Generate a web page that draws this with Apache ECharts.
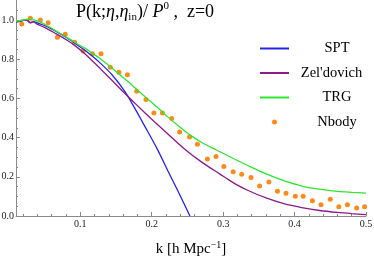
<!DOCTYPE html>
<html><head><meta charset="utf-8">
<script src="https://cdn.jsdelivr.net/npm/echarts@6/dist/echarts.min.js"></script>
<style>html,body{margin:0;padding:0;background:#fff}#c{width:374px;height:258px}</style>
</head><body><div id="c"></div>
<script>
// ---- data ----
const sptK = [0.01,0.015,0.02,0.025,0.03,0.034,0.04,0.05,0.065,0.08,0.095,0.11,0.128,0.145,0.163,0.175,0.19,0.208,0.222,0.236,0.2535];
const sptV = [0.99,0.993,0.998,1.0,0.987,0.992,0.985,0.972,0.944,0.912,0.875,0.835,0.78,0.718,0.632,0.558,0.46,0.34,0.235,0.133,0.0];
const zelK = [0.01,0.015,0.02,0.025,0.03,0.034,0.04,0.05,0.065,0.081,0.093,0.104,0.116,0.128,0.145,0.16,0.18,0.2,0.22,0.245,0.27,0.295,0.315,0.335,0.36,0.385,0.41,0.435,0.46,0.48,0.5];
const zelV = [0.99,0.993,0.998,1.0,0.985,0.99,0.978,0.962,0.932,0.898,0.868,0.835,0.795,0.752,0.69,0.634,0.563,0.494,0.427,0.345,0.275,0.215,0.168,0.13,0.092,0.063,0.043,0.028,0.018,0.012,0.007];
const trgK = [0.01,0.02,0.028,0.036,0.045,0.055,0.067,0.08,0.095,0.107,0.117,0.129,0.142,0.155,0.168,0.18,0.195,0.21,0.222,0.24,0.255,0.27,0.29,0.315,0.34,0.362,0.385,0.41,0.435,0.46,0.48,0.5];
const trgV = [0.993,1.0,1.004,0.999,0.988,0.968,0.942,0.914,0.88,0.855,0.83,0.80,0.762,0.722,0.682,0.643,0.595,0.547,0.507,0.452,0.41,0.375,0.338,0.292,0.248,0.212,0.18,0.153,0.137,0.126,0.121,0.117];
const nbK = [0.018,0.030,0.044,0.055,0.068,0.079,0.092,0.104,0.117,0.129,0.142,0.154,0.166,0.179,0.192,0.203,0.215,0.228,0.239,0.253,0.264,0.278,0.290,0.301,0.314,0.326,0.339,0.351,0.364,0.376,0.388,0.401,0.412,0.425,0.437,0.450,0.462,0.474,0.487,0.498];
const nbV = [0.980,1.009,1.000,0.986,0.912,0.927,0.886,0.842,0.828,0.828,0.759,0.733,0.721,0.636,0.594,0.526,0.526,0.497,0.429,0.403,0.366,0.291,0.303,0.253,0.226,0.213,0.196,0.153,0.173,0.126,0.116,0.1005,0.1005,0.078,0.058,0.085,0.047,0.058,0.041,0.047];
const xTickLabels = [0.1,0.2,0.3,0.4,0.5];
const xMinorTicks = [0.02,0.04,0.06,0.08,0.12,0.14,0.16,0.18,0.22,0.24,0.26,0.28,0.32,0.34,0.36,0.38,0.42,0.44,0.46,0.48];
const yTickLabels = [0,0.2,0.4,0.6,0.8,1.0];
const yMinorTicks = [0.05,0.1,0.15,0.25,0.3,0.35,0.45,0.5,0.55,0.65,0.7,0.75,0.85,0.9,0.95,1.05];
const seriesNames = ['SPT', "Zel'dovich", 'TRG', 'Nbody'];

const zip = (a, b) => a.map((k, i) => [k, b[i]]);
const SERIF = '"Liberation Serif","DejaVu Serif",serif';
const axisGray = '#8a8a8a';

const chart = echarts.init(document.getElementById('c'), null, {renderer: 'canvas'});
const xCommon = {type: 'value', min: 0.01, max: 0.5, position: 'bottom', splitLine: {show: false}};
const yCommon = {type: 'value', min: 0, max: 1.1, position: 'left', splitLine: {show: false}};
const txt = (o) => Object.assign({fontFamily: SERIF, color: '#000', fontWeight: 'normal'}, o);
chart.setOption({
  animation: false,
  backgroundColor: '#fff',
  title: {
    left: 76, top: 1, padding: 0,
    text: '{n|P(k;}{i|η}{n|,}{i|η}{s|in}{n|)/ }{i|P}{p|0}{n| ,  z=0}',
    textStyle: {
      fontWeight: 'normal',
      rich: {
        n: txt({fontSize: 18, lineHeight: 22}),
        i: txt({fontSize: 18, fontStyle: 'italic', lineHeight: 22}),
        s: txt({fontSize: 11, lineHeight: 11, verticalAlign: 'bottom'}),
        p: txt({fontSize: 11, lineHeight: 11, verticalAlign: 'top'})
      }
    }
  },
  legend: {
    orient: 'vertical', left: 254, top: 36, itemWidth: 29, itemHeight: 5, itemGap: 9.5,
    data: seriesNames.map(n => n === 'Nbody' ? {name: n} : {name: n, itemStyle: {opacity: 0}}),
    formatter: n => n === "Zel'dovich" ? '{z|' + n + '}' : '{a|' + n + '}',
    textStyle: {
      fontFamily: SERIF, fontSize: 14.5, color: '#000',
      rich: {
        a: txt({fontSize: 14.5, width: 86, align: 'center', lineHeight: 16}),
        z: txt({fontSize: 14.5, width: 75, align: 'center', lineHeight: 16})
      }
    }
  },
  grid: {left: 16, right: 8, top: 0.4, bottom: 42, containLabel: false, outerBoundsMode: 'none'},
  xAxis: [
    Object.assign({}, xCommon, {
      axisLine: {show: true, onZero: false, lineStyle: {color: axisGray, width: 1}},
      axisTick: {show: true, inside: true, length: 4, customValues: xTickLabels, lineStyle: {color: axisGray}},
      axisLabel: {customValues: xTickLabels, margin: 3, fontFamily: SERIF, fontSize: 10, color: '#222', formatter: v => v.toFixed(1)},
      name: '{n|k [h Mpc}{p|−1}{n|]}', nameLocation: 'middle', nameGap: 24,
      nameTextStyle: {rich: {
        n: txt({fontSize: 15, lineHeight: 18}),
        p: txt({fontSize: 10, lineHeight: 10, verticalAlign: 'top'})
      }}
    }),
    Object.assign({}, xCommon, {
      axisLine: {show: false, onZero: false},
      axisTick: {show: true, inside: true, length: 2, customValues: xMinorTicks, lineStyle: {color: axisGray}},
      axisLabel: {show: false}
    })
  ],
  yAxis: [
    Object.assign({}, yCommon, {
      axisLine: {show: true, onZero: false, lineStyle: {color: axisGray, width: 1}},
      axisTick: {show: true, inside: true, length: 4, customValues: yTickLabels, lineStyle: {color: axisGray}},
      axisLabel: {customValues: yTickLabels, margin: 2, fontFamily: SERIF, fontSize: 10, color: '#222', formatter: v => v.toFixed(1)}
    }),
    Object.assign({}, yCommon, {
      axisLine: {show: false, onZero: false},
      axisTick: {show: true, inside: true, length: 2, customValues: yMinorTicks, lineStyle: {color: axisGray}},
      axisLabel: {show: false}
    })
  ],
  series: [
    {name: 'SPT', type: 'line', data: zip(sptK, sptV), symbol: 'none', smooth: 0.3,
     lineStyle: {color: '#2424ec', width: 1.3}, itemStyle: {color: '#2424ec'}},
    {name: "Zel'dovich", type: 'line', data: zip(zelK, zelV), symbol: 'none', smooth: 0.3,
     lineStyle: {color: '#8c1a8c', width: 1.3}, itemStyle: {color: '#8c1a8c'}},
    {name: 'TRG', type: 'line', data: zip(trgK, trgV), symbol: 'none', smooth: 0.3,
     lineStyle: {color: '#2ee62e', width: 1.3}, itemStyle: {color: '#2ee62e'}},
    {name: 'Nbody', type: 'scatter', data: zip(nbK, nbV), symbol: 'circle', symbolSize: 5,
     itemStyle: {color: '#ff8a1c', opacity: 1}}
  ]
});
</script></body></html>
